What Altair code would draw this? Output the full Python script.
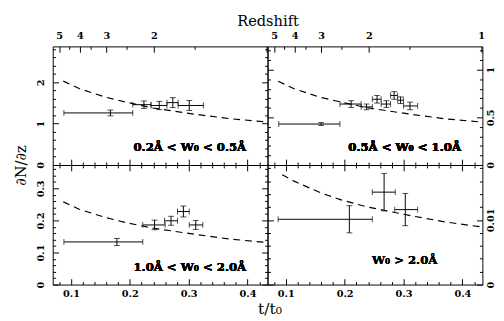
import json
import altair as alt
import pandas as pd

# ---------------- values ----------------
# bottom axis (t/t0) ticks
T_MAJOR = [0.1, 0.2, 0.3, 0.4]
T_MINOR = [0.08, 0.12, 0.14, 0.16, 0.18, 0.22, 0.24, 0.26, 0.28, 0.32, 0.34, 0.36, 0.38, 0.42]
T_LABELS = ["0.1", "0.2", "0.3", "0.4"]
# top axis (redshift) ticks, positioned in t/t0
Z_LABELS = ["5", "4", "3", "2", "1"]
Z_TICK_T = [0.080, 0.115, 0.160, 0.241, 0.432]
Z_MINOR_T = [0.097, 0.134, 0.195, 0.310]

# panel 1 : 0.2A < W0 < 0.5A
P1_T = [0.167, 0.224, 0.250, 0.273, 0.301]
P1_TLO = [0.088, 0.205, 0.236, 0.263, 0.282]
P1_THI = [0.205, 0.236, 0.263, 0.282, 0.325]
P1_Y = [1.26, 1.46, 1.44, 1.51, 1.44]
P1_ERR = [0.07, 0.09, 0.10, 0.12, 0.12]
P1_CURVE_T = [0.087, 0.114, 0.159, 0.194, 0.239, 0.310, 0.370, 0.434]
P1_CURVE_Y = [2.03, 1.85, 1.64, 1.52, 1.38, 1.23, 1.12, 1.04]

# panel 2 : 0.5A < W0 < 1.0A
P2_T = [0.160, 0.211, 0.237, 0.255, 0.271, 0.284, 0.295, 0.311]
P2_TLO = [0.088, 0.192, 0.228, 0.247, 0.262, 0.278, 0.290, 0.300]
P2_THI = [0.192, 0.228, 0.247, 0.262, 0.278, 0.290, 0.300, 0.324]
P2_Y = [0.43, 0.64, 0.61, 0.69, 0.64, 0.73, 0.68, 0.62]
P2_ERR = [0.015, 0.035, 0.03, 0.04, 0.035, 0.04, 0.035, 0.04]
P2_CURVE_T = [0.087, 0.114, 0.159, 0.194, 0.239, 0.310, 0.370, 0.434]
P2_CURVE_Y = [0.88, 0.80, 0.71, 0.66, 0.60, 0.535, 0.485, 0.45]

# panel 3 : 1.0A < W0 < 2.0A
P3_T = [0.178, 0.242, 0.270, 0.291, 0.312]
P3_TLO = [0.088, 0.222, 0.259, 0.281, 0.301]
P3_THI = [0.222, 0.260, 0.281, 0.301, 0.324]
P3_Y = [0.133, 0.186, 0.199, 0.228, 0.186]
P3_ERR = [0.011, 0.015, 0.014, 0.017, 0.014]
P3_CURVE_T = [0.087, 0.114, 0.159, 0.194, 0.239, 0.310, 0.370, 0.434]
P3_CURVE_Y = [0.258, 0.235, 0.209, 0.193, 0.176, 0.157, 0.142, 0.131]

# panel 4 : W0 > 2.0A
P4_T = [0.208, 0.267, 0.303]
P4_TLO = [0.087, 0.247, 0.285]
P4_THI = [0.247, 0.286, 0.324]
P4_Y = [0.0101, 0.0143, 0.0116]
P4_ERR = [0.0021, 0.0029, 0.0025]
P4_CURVE_T = [0.094, 0.114, 0.159, 0.194, 0.239, 0.310, 0.370, 0.434]
P4_CURVE_Y = [0.0170, 0.0160, 0.0142, 0.0131, 0.0120, 0.0107, 0.0097, 0.0089]

# y ticks for each panel
Y1_MAJOR = [0, 1, 2]
Y1_MINOR = [0.2, 0.4, 0.6, 0.8, 1.2, 1.4, 1.6, 1.8, 2.2, 2.4, 2.6, 2.8]
Y2_MAJOR = [0, 0.5, 1]
Y2_MINOR = [0.1, 0.2, 0.3, 0.4, 0.6, 0.7, 0.8, 0.9, 1.1, 1.2]
Y3_MAJOR = [0, 0.1, 0.2, 0.3]
Y3_MINOR = [0.02, 0.04, 0.06, 0.08, 0.12, 0.14, 0.16, 0.18, 0.22, 0.24, 0.26, 0.28, 0.32, 0.34, 0.36]
Y4_MAJOR = [0, 0.01]
Y4_MINOR = [0.002, 0.004, 0.006, 0.008, 0.012, 0.014, 0.016, 0.018]

LABELS = ["0.2Å < W₀ < 0.5Å", "0.5Å < W₀ < 1.0Å", "1.0Å < W₀ < 2.0Å", "W₀ > 2.0Å"]

# ---------------- layout / style ----------------
W = 221
H_TOP = 122
H_BOT = 123
X_DOMAIN = [0.069, 0.434]
FONT = "DejaVu Serif"
MAJ, MIN = 6, 3


def size_cond(majors):
    return {"condition": {"test": f"indexof({json.dumps(majors)}, datum.value) >= 0",
                          "value": MAJ}, "value": MIN}


def tick_axis(orient, majors, minors, offset):
    return alt.Axis(orient=orient, values=sorted(majors + minors), offset=offset,
                    labels=False, domain=False, grid=False, title=None, ticks=True,
                    tickColor="black", tickWidth=1, tickSize=size_cond(majors))


def label_expr(values, labels):
    expr = "''"
    for v, l in reversed(list(zip(values, labels))):
        expr = f"abs(datum.value - {v}) < 1e-6 ? '{l}' : {expr}"
    return expr


def panel(t, tlo, thi, y, err, ct, cy, ydom, ymaj, ymin, h, top, left, text, text_pos):
    df = pd.DataFrame({"t": t, "tlo": tlo, "thi": thi, "y": y,
                       "ylo": [a - b for a, b in zip(y, err)],
                       "yhi": [a + b for a, b in zip(y, err)]})
    cdf = pd.DataFrame({"t": ct, "y": cy})
    xs = alt.Scale(domain=X_DOMAIN, nice=False, zero=False)
    ys = alt.Scale(domain=ydom, nice=False, zero=False)

    def ax_layer(xaxis, yaxis):
        return alt.Chart(df).mark_point(opacity=0).encode(
            x=alt.X("t:Q", scale=xs, axis=xaxis),
            y=alt.Y("y:Q", scale=ys, axis=yaxis))

    # edge ticks (pointing inward)
    if top:
        top_ticks = tick_axis("bottom", Z_TICK_T, Z_MINOR_T, -h)
    else:
        top_ticks = tick_axis("bottom", T_MAJOR, T_MINOR, -h)
    bot_ticks = tick_axis("top", T_MAJOR, T_MINOR, -h)
    left_ticks = tick_axis("right", ymaj, ymin, -W)
    right_ticks = tick_axis("left", ymaj, ymin, -W)

    lab_common = dict(domain=False, grid=False, ticks=False, tickSize=0,
                      labelFont=FONT, labelFontSize=10, labelFontWeight="bold",
                      labelColor="black", titleFont=FONT, titleFontSize=15,
                      titleFontWeight="normal", titleColor="black")
    if top:
        zv = Z_TICK_T[:-1] if left else Z_TICK_T
        zl = Z_LABELS[:-1] if left else Z_LABELS
        xlab = alt.Axis(orient="top", values=zv, labelExpr=label_expr(zv, zl),
                        labelPadding=6, labelAngle=0,
                        title="Redshift" if left else None,
                        titleX=W, titlePadding=3, **lab_common)
    else:
        xlab = alt.Axis(orient="bottom", values=T_MAJOR,
                        labelExpr=label_expr(T_MAJOR, T_LABELS),
                        labelPadding=4, labelAngle=0,
                        title="t/t₀" if left else None,
                        titleX=W + 2, titlePadding=3,
                        **{**lab_common, "titleFontSize": 16})
    if left:
        ylab = alt.Axis(orient="left", values=ymaj, format="~g", labelAngle=-90,
                        labelAlign="center", labelBaseline="bottom", labelPadding=7,
                        title=None if top else "∂N/∂z", titleY=0, titlePadding=8,
                        **lab_common)
    else:
        ylab = alt.Axis(orient="right", values=ymaj, format="~g", labelAngle=-90,
                        labelAlign="center", labelBaseline="top", labelPadding=3,
                        title=None, **lab_common)

    xn = dict(scale=xs, axis=None)
    yn = dict(scale=ys, axis=None)
    curve = alt.Chart(cdf).mark_line(color="black", strokeWidth=1.2,
                                     strokeDash=[7, 5]).encode(
        x=alt.X("t:Q", **xn), y=alt.Y("y:Q", **yn))
    hbar = alt.Chart(df).mark_rule(color="black", strokeWidth=1).encode(
        x=alt.X("tlo:Q", **xn), x2="thi:Q", y=alt.Y("y:Q", **yn))
    vbar = alt.Chart(df).mark_rule(color="black", strokeWidth=1).encode(
        x=alt.X("t:Q", **xn), y=alt.Y("ylo:Q", **yn), y2="yhi:Q")
    caps_v_lo = alt.Chart(df).mark_tick(orient="horizontal", color="black",
                                        size=6, thickness=1).encode(
        x=alt.X("t:Q", **xn), y=alt.Y("ylo:Q", **yn))
    caps_v_hi = alt.Chart(df).mark_tick(orient="horizontal", color="black",
                                        size=6, thickness=1).encode(
        x=alt.X("t:Q", **xn), y=alt.Y("yhi:Q", **yn))
    caps_h_lo = alt.Chart(df).mark_tick(orient="vertical", color="black",
                                        size=6, thickness=1).encode(
        x=alt.X("tlo:Q", **xn), y=alt.Y("y:Q", **yn))
    caps_h_hi = alt.Chart(df).mark_tick(orient="vertical", color="black",
                                        size=6, thickness=1).encode(
        x=alt.X("thi:Q", **xn), y=alt.Y("y:Q", **yn))
    label = alt.Chart(df).mark_text(font=FONT, fontSize=12, fontWeight="bold",
                                    color="black", align="center",
                                    baseline="middle", text=text).encode(
        x=alt.value(text_pos[0]), y=alt.value(text_pos[1]))

    return alt.layer(
        ax_layer(top_ticks, left_ticks),
        ax_layer(bot_ticks, right_ticks),
        ax_layer(xlab, ylab),
        curve, hbar, vbar, caps_v_lo, caps_v_hi, caps_h_lo, caps_h_hi, label,
    ).resolve_axis(x="independent", y="independent").properties(width=W, height=h)


tl = panel(P1_T, P1_TLO, P1_THI, P1_Y, P1_ERR, P1_CURVE_T, P1_CURVE_Y, [0, 2.87],
           Y1_MAJOR, Y1_MINOR, H_TOP, True, True, LABELS[0], (141, 104))
tr = panel(P2_T, P2_TLO, P2_THI, P2_Y, P2_ERR, P2_CURVE_T, P2_CURVE_Y, [0, 1.245],
           Y2_MAJOR, Y2_MINOR, H_TOP, True, False, LABELS[1], (141, 104))
bl = panel(P3_T, P3_TLO, P3_THI, P3_Y, P3_ERR, P3_CURVE_T, P3_CURVE_Y, [0, 0.373],
           Y3_MAJOR, Y3_MINOR, H_BOT, False, True, LABELS[2], (141, 105))
br = panel(P4_T, P4_TLO, P4_THI, P4_Y, P4_ERR, P4_CURVE_T, P4_CURVE_Y, [0, 0.0185],
           Y4_MAJOR, Y4_MINOR, H_BOT, False, False, LABELS[3], (141, 98))

chart = alt.concat(
    tl, tr, bl, br, columns=2, spacing=0, bounds="flush",
).properties(
    padding={"left": 5, "top": 0, "right": 0, "bottom": 0}, background="white"
).configure_view(stroke="black", strokeWidth=1)

chart.save("out.html", embed_options={"renderer": "svg", "actions": False})
